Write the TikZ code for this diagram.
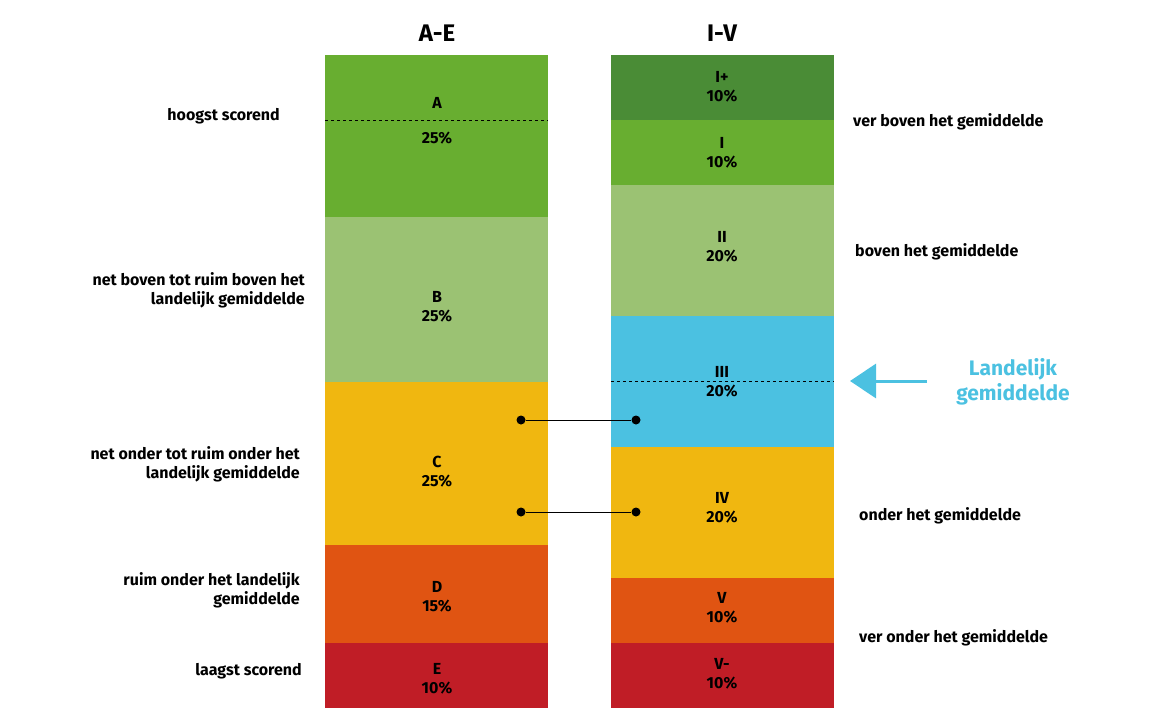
\documentclass[tikz,border=0pt]{standalone}
\usepackage{fontspec}
\setmainfont{Fira Sans}
\usetikzlibrary{arrows.meta,positioning}
\definecolor{grA}{HTML}{68AE30}
\definecolor{grD}{HTML}{4A8C36}
\definecolor{grL}{HTML}{9BC273}
\definecolor{blu}{HTML}{4BC1E1}
\definecolor{yel}{HTML}{F0B710}
\definecolor{ora}{HTML}{E05412}
\definecolor{rd}{HTML}{C01D26}
\begin{document}
\begin{tikzpicture}[x=1pt,y=-1pt,font=\fontsize{16}{19}\selectfont\bfseries,
  band/.style={fill=#1,draw=none},
  lbl/.style={align=center,inner sep=0pt},
  side/.style={align=right,anchor=east,inner sep=0pt},
  rside/.style={anchor=west,inner sep=0pt},
  dot/.style={circle,fill=black,inner sep=0pt,minimum size=9pt}]
  \useasboundingbox (0,0) rectangle (1160,725);
  % headers
  \node[font=\fontsize{24}{26}\selectfont\bfseries] (hAE) at (437,33) {A-E};
  \node[font=\fontsize{24}{26}\selectfont\bfseries] (hIV) at (722,33) {I-V};
  % left column
  \fill[grA] (325,55) rectangle (548,217);
  \fill[grL] (325,217) rectangle (548,382);
  \fill[yel] (325,382) rectangle (548,545);
  \fill[ora] (325,545) rectangle (548,643);
  \fill[rd] (325,643) rectangle (548,708);
  \draw[dashed] (325,120) -- (548,120);
  \node[lbl] (A) at (437,103) {A};
  \node[lbl] (Ap) at (437,138) {25\%};
  \node[lbl] (B) at (437,307) {B\\25\%};
  \node[lbl] (C) at (437,472) {C\\25\%};
  \node[lbl] (D) at (437,597) {D\\15\%};
  \node[lbl] (E) at (437,679) {E\\10\%};
  % right column
  \fill[grD] (611,55) rectangle (834,120);
  \fill[grA] (611,120) rectangle (834,185);
  \fill[grL] (611,185) rectangle (834,316);
  \fill[blu] (611,316) rectangle (834,447);
  \fill[yel] (611,447) rectangle (834,578);
  \fill[ora] (611,578) rectangle (834,643);
  \fill[rd] (611,643) rectangle (834,708);
  \draw[dashed] (611,381) -- (834,381);
  \node[lbl] (Ipl) at (722,87) {I+\\10\%};
  \node[lbl] (I) at (722,153) {I\\10\%};
  \node[lbl] (II) at (722,247) {II\\20\%};
  \node[lbl] (III) at (722,382) {III\\20\%};
  \node[lbl] (IV) at (722,508) {IV\\20\%};
  \node[lbl] (V) at (722,608) {V\\10\%};
  \node[lbl] (Vmin) at (722,674) {V-\\10\%};
  % connectors
  \node[dot] (c1) at (521,420) {};
  \node[dot] (c2) at (521,512) {};
  \node[dot] (r1) at (636,420) {};
  \node[dot] (r2) at (636,512) {};
  \draw (c1) -- (r1);
  \draw (c2) -- (r2);
  % left texts
  \node[side] (t1) at (280,116) {hoogst scorend};
  \node[side] (t2) at (305,290) {net boven tot ruim boven het\\landelijk gemiddelde};
  \node[side] (t3) at (300,464) {net onder tot ruim onder het\\landelijk gemiddelde};
  \node[side] (t4) at (300,590) {ruim onder het landelijk\\gemiddelde};
  \node[side] (t5) at (302,671) {laagst scorend};
  % right texts
  \node[rside] (s1) at (853,122) {ver boven het gemiddelde};
  \node[rside] (s2) at (855,252) {boven het gemiddelde};
  \node[rside] (s3) at (859,516) {onder het gemiddelde};
  \node[rside] (s4) at (859,638) {ver onder het gemiddelde};
  % national average
  \node[lbl,text=blu,font=\fontsize{21}{25}\selectfont\bfseries] (lg) at (1013,382) {Landelijk\\gemiddelde};
  \coordinate (aS) at (927,381);
  \coordinate (aE) at (850,381);
  \draw[blu,line width=3pt,-{Triangle[length=26pt,width=34pt]}] (aS) -- (aE);
\end{tikzpicture}
\end{document}
